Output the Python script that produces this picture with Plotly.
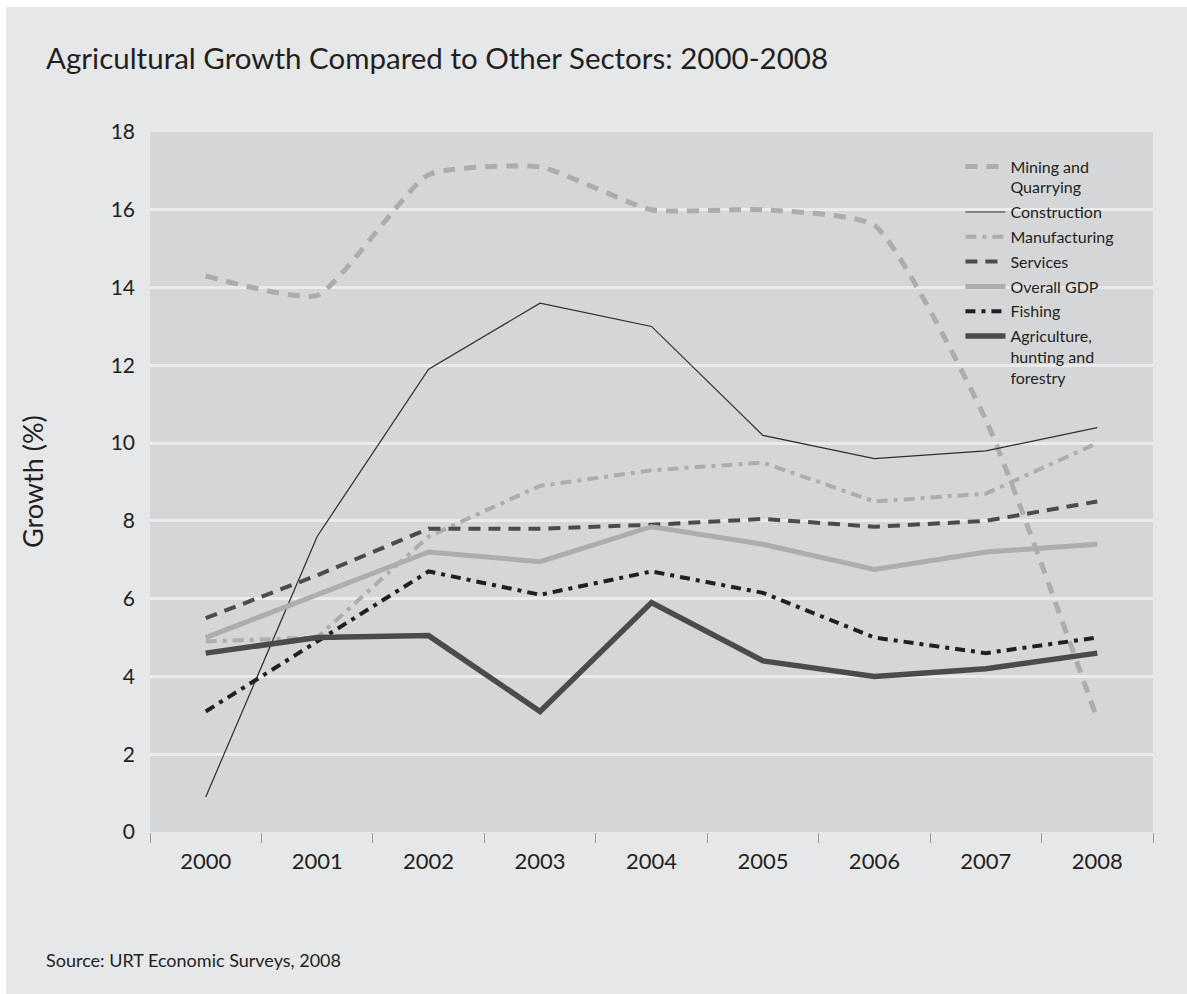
import plotly.graph_objects as go

years = ["2000", "2001", "2002", "2003", "2004", "2005", "2006", "2007", "2008"]

mining = [14.3, 13.8, 16.9, 17.1, 16.0, 16.0, 15.6, 10.6, 2.9]
construction = [0.9, 7.6, 11.9, 13.6, 13.0, 10.2, 9.6, 9.8, 10.4]
manufacturing = [4.9, 5.0, 7.6, 8.9, 9.3, 9.5, 8.5, 8.7, 10.0]
services = [5.5, 6.6, 7.8, 7.8, 7.9, 8.05, 7.85, 8.0, 8.5]
overall_gdp = [5.0, 6.1, 7.2, 6.95, 7.85, 7.4, 6.75, 7.2, 7.4]
fishing = [3.1, 4.9, 6.7, 6.1, 6.7, 6.15, 5.0, 4.6, 5.0]
agriculture = [4.6, 5.0, 5.05, 3.1, 5.9, 4.4, 4.0, 4.2, 4.6]

y_ticks = list(range(0, 19, 2))

FONT = "Lato, 'Open Sans', sans-serif"
INK = "#231f20"
LIGHT = "#acadaf"
DARK = "#4b4b4d"

series = [
    ("Mining and<br>Quarrying", mining, dict(color=LIGHT, width=5, dash="12px,9px"), "spline"),
    ("Construction", construction, dict(color="#2e2e2e", width=1.2), "linear"),
    ("Manufacturing", manufacturing, dict(color=LIGHT, width=4, dash="11px,6px,4px,6px"), "linear"),
    ("Services", services, dict(color=DARK, width=4, dash="12px,8px"), "linear"),
    ("Overall GDP", overall_gdp, dict(color=LIGHT, width=5), "linear"),
    ("Fishing", fishing, dict(color=INK, width=4, dash="10px,6px,4px,6px"), "linear"),
    ("Agriculture,<br>hunting and<br>forestry", agriculture, dict(color=DARK, width=5.5), "linear"),
]

fig = go.Figure()
for i, (name, vals, line, shape) in enumerate(series):
    line = dict(line)
    line["shape"] = shape
    if shape == "spline":
        line["smoothing"] = 0.5
    fig.add_trace(go.Scatter(
        x=years, y=vals, name=name, mode="lines", line=line,
        legendgroup=f"g{i}",
    ))

fig.update_layout(
    width=1187, height=994,
    margin=dict(l=150, r=34, t=132, b=162),
    paper_bgcolor="#e6e7e8",
    plot_bgcolor="#d5d6d8",
    font=dict(family=FONT, color=INK),
    showlegend=True,
    legend=dict(
        x=0.808, y=0.975, xanchor="left", yanchor="top",
        bgcolor="rgba(0,0,0,0)",
        font=dict(family=FONT, size=16, color=INK),
        tracegroupgap=1,
        valign="top",
        itemwidth=40,
    ),
    xaxis=dict(
        type="category",
        range=[-0.5, 8.5],
        showgrid=False,
        zeroline=False,
        showline=False,
        ticks="outside",
        tickson="boundaries",
        ticklen=10,
        tickwidth=1,
        tickcolor="#9b9b9d",
        ticklabelstandoff=14,
        tickfont=dict(family=FONT, size=22, color=INK),
    ),
    yaxis=dict(
        range=[0, 18],
        tickvals=y_ticks,
        showgrid=True,
        gridcolor="#eaebec",
        gridwidth=2.5,
        zeroline=False,
        showline=False,
        ticks="",
        ticklabelstandoff=14,
        tickfont=dict(family=FONT, size=21, color=INK),
    ),
    annotations=[
        dict(text="Agricultural Growth Compared to Other Sectors: 2000-2008",
             xref="paper", yref="paper", x=-0.1057, y=1.107,
             xanchor="left", yanchor="middle", showarrow=False,
             font=dict(family=FONT, size=29.5, color=INK)),
        dict(text="Growth (%)",
             xref="paper", yref="paper", x=-0.1176, y=0.5,
             xanchor="center", yanchor="middle", textangle=-90, showarrow=False,
             font=dict(family=FONT, size=27, color=INK)),
        dict(text="Source: URT Economic Surveys, 2008",
             xref="paper", yref="paper", x=-0.1057, y=-0.183,
             xanchor="left", yanchor="middle", showarrow=False,
             font=dict(family=FONT, size=18, color=INK)),
    ],
    shapes=[
        # white frame strips along the top and left edges of the card
        dict(type="rect", xref="paper", yref="paper",
             x0=-150 / 1003, x1=1037 / 1003, y0=825 / 700, y1=832 / 700,
             fillcolor="white", line=dict(width=0), layer="above"),
        dict(type="rect", xref="paper", yref="paper",
             x0=-150 / 1003, x1=-144 / 1003, y0=-162 / 700, y1=832 / 700,
             fillcolor="white", line=dict(width=0), layer="above"),
    ],
)

fig.write_html("out.html")
